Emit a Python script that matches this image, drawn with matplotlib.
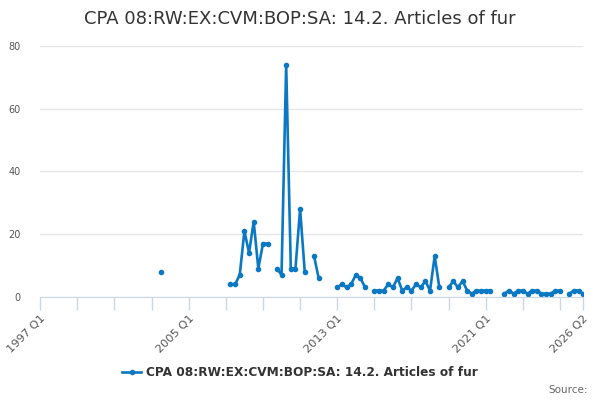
import numpy as np
import matplotlib
matplotlib.use("Agg")
import matplotlib.pyplot as plt

# Quarter index 0 = 1997 Q1 ... 117 = 2026 Q2
n_quarters = 118
observed_quarters = [26,
                     41, 42, 43, 44, 45, 46, 47, 48, 49,
                     51, 52, 53, 54, 55, 56, 57,
                     59, 60,
                     64, 65, 66, 67, 68, 69, 70,
                     72, 73, 74, 75, 76, 77, 78, 79, 80, 81, 82, 83, 84, 85, 86,
                     88, 89, 90, 91, 92, 93, 94, 95, 96, 97,
                     100, 101, 102, 103, 104, 105, 106, 107, 108, 109, 110, 111, 112,
                     114, 115, 116, 117]
observed_values = [8,
                   4, 4, 7, 21, 14, 24, 9, 17, 17,
                   9, 7, 74, 9, 9, 28, 8,
                   13, 6,
                   3, 4, 3, 4, 7, 6, 3,
                   2, 2, 2, 4, 3, 6, 2, 3, 2, 4, 3, 5, 2, 13, 3,
                   3, 5, 3, 5, 2, 1, 2, 2, 2, 2,
                   1, 2, 1, 2, 2, 1, 2, 2, 1, 1, 1, 2, 2,
                   1, 2, 2, 1]
tick_positions = [0, 32, 64, 96, 117]
tick_labels = ["1997 Q1", "2005 Q1", "2013 Q1", "2021 Q1", "2026 Q2"]
minor_positions = list(range(0, 117, 8))
y_ticks = [0, 20, 40, 60, 80]
series_name = "CPA 08:RW:EX:CVM:BOP:SA: 14.2. Articles of fur"

y = np.full(n_quarters, np.nan)
y[observed_quarters] = observed_values
x = np.arange(n_quarters)

color = "#0a78c2"
fig = plt.figure(figsize=(6, 4), dpi=100)
ax = fig.add_axes([0.067, 0.258, 0.905, 0.627])

ax.plot(x, y, color=color, lw=1.9, marker="o", ms=3.0, label=series_name)

ax.set_xlim(0, 117)
ax.set_ylim(0, 80)
ax.set_yticks(y_ticks)
ax.set_yticklabels([str(v) for v in y_ticks], color="#555555", fontsize=7)
ax.tick_params(axis="y", length=0, pad=14)
ax.grid(axis="y", color="#e6e6e6", lw=1)
ax.set_axisbelow(True)

ax.set_xticks(tick_positions)
ax.set_xticklabels(tick_labels, rotation=45, ha="right", rotation_mode="anchor",
                   color="#555555", fontsize=8.2)
ax.set_xticks(minor_positions, minor=True)
ax.tick_params(axis="x", which="both", length=9, color="#ccd6eb", width=1)
ax.tick_params(axis="x", which="major", pad=3)

for s in ["top", "right", "left"]:
    ax.spines[s].set_visible(False)
ax.spines["bottom"].set_color("#ccd6eb")

fig.suptitle(series_name, x=0.5, y=0.975, fontsize=13, color="#333333")

leg = fig.legend(loc="center", bbox_to_anchor=(0.5, 0.068), frameon=False,
                 prop={"weight": "bold", "size": 8.7}, handlelength=1.6, handletextpad=0.4)
for t in leg.get_texts():
    t.set_color("#333333")

fig.text(0.98, 0.025, "Source:", ha="right", va="center", fontsize=7.5, color="#666666")

fig.savefig("out.png", dpi=100)
